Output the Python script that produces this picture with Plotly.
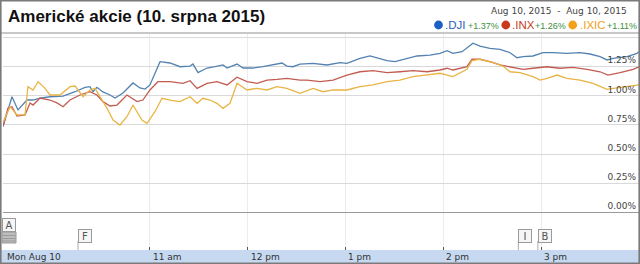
import pandas as pd
import plotly.graph_objects as go

# ---------------- data ----------------
DAY_OPEN = "2015-08-10 09:30"
DAY_CLOSE = "2015-08-10 16:00"

SERIES_NAMES = [".DJI", ".INX", ".IXIC"]
SERIES_CHANGE = ["+1.37%", "+1.26%", "+1.11%"]

# minutes after the 9:30 open, and % change vs previous close
DJI_MIN = [0, 5.5, 9.2, 14.7, 18.4, 22.7, 28.8, 36.8, 44.2, 50.3,
           53.3, 55.2, 57.6, 61.3, 65.6, 68.7, 73.6, 79.7, 84.0, 87.1,
           90.1, 93.2, 96.3, 102.4, 108.5, 114.7, 116.5, 119.6, 125.1, 130.0,
           134.9, 137.4, 143.5, 147.2, 153.3, 159.4, 165.6, 171.1, 174.1, 177.8,
           182.1, 190.1, 198.7, 206.7, 210.9, 218.9, 225.0, 231.2, 235.5, 240.4,
           247.7, 253.9, 261.8, 268.0, 272.3, 275.9, 281.5, 286.4, 288.2, 292.5,
           298.6, 304.8, 310.9, 315.2, 318.9, 325.0, 331.1, 337.3, 345.8, 353.8,
           360.0, 366.1, 370.4, 374.1, 382.7, 388.8, 390.0]
DJI_VAL = [0.735, 0.991, 0.878, 0.963, 0.963, 0.980, 0.991, 0.997, 1.034, 1.072,
           1.077, 1.034, 1.072, 1.032, 1.006, 0.980, 1.023, 1.109, 1.066, 1.057,
           1.092, 1.194, 1.291, 1.280, 1.248, 1.254, 1.271, 1.197, 1.237, 1.248,
           1.263, 1.237, 1.271, 1.237, 1.237, 1.248, 1.263, 1.280, 1.254, 1.248,
           1.271, 1.277, 1.263, 1.283, 1.277, 1.320, 1.340, 1.320, 1.300, 1.291,
           1.320, 1.340, 1.348, 1.363, 1.385, 1.363, 1.377, 1.434, 1.449, 1.425,
           1.406, 1.397, 1.368, 1.325, 1.334, 1.340, 1.368, 1.368, 1.363, 1.368,
           1.357, 1.334, 1.306, 1.320, 1.334, 1.363, 1.377]

INX_MIN = [0, 3.1, 5.5, 8.6, 13.5, 16.6, 18.4, 22.7, 28.8, 33.1,
           36.8, 41.1, 47.2, 53.3, 57.6, 61.3, 65.6, 69.9, 76.0, 82.2,
           85.8, 90.1, 95.0, 102.4, 110.4, 114.7, 119.0, 125.1, 131.2, 137.4,
           143.5, 149.6, 155.8, 161.9, 168.0, 174.1, 182.1, 186.4, 194.4, 202.4,
           210.9, 218.9, 226.9, 235.5, 243.4, 251.4, 260.0, 268.0, 272.3, 275.9,
           284.5, 287.6, 292.5, 298.6, 304.8, 312.7, 318.9, 325.0, 333.6, 341.6,
           349.5, 358.1, 366.1, 371.0, 378.4, 386.4, 390.0]
INX_VAL = [0.741, 0.895, 0.906, 0.826, 0.835, 0.938, 0.920, 0.980, 0.963, 0.938,
           0.906, 0.963, 1.006, 1.034, 1.006, 0.949, 0.912, 0.920, 1.006, 0.949,
           0.963, 1.049, 1.120, 1.120, 1.106, 1.128, 1.063, 1.106, 1.120, 1.092,
           1.158, 1.120, 1.106, 1.134, 1.140, 1.149, 1.134, 1.134, 1.120, 1.134,
           1.177, 1.205, 1.214, 1.197, 1.205, 1.214, 1.205, 1.220, 1.235, 1.220,
           1.248, 1.312, 1.312, 1.291, 1.263, 1.243, 1.226, 1.235, 1.248, 1.235,
           1.243, 1.226, 1.205, 1.177, 1.197, 1.226, 1.248]

IXIC_MIN = [0, 4.3, 8.6, 13.5, 15.3, 18.4, 21.5, 25.8, 28.8, 35.0,
            41.1, 44.2, 49.1, 53.3, 56.4, 59.5, 63.8, 67.5, 71.7, 76.0,
            79.7, 85.2, 88.3, 93.2, 97.5, 102.4, 108.5, 114.7, 119.0, 122.6,
            126.9, 131.2, 134.9, 139.2, 143.5, 149.6, 155.8, 161.9, 168.0, 174.1,
            182.1, 190.1, 196.2, 202.4, 210.9, 218.9, 226.9, 235.5, 243.4, 251.4,
            260.0, 268.0, 275.9, 284.5, 287.6, 292.5, 300.5, 306.6, 310.9, 317.0,
            325.0, 329.3, 333.6, 339.7, 345.8, 353.8, 361.8, 370.4, 378.4, 386.4,
            390.0]
IXIC_VAL = [0.771, 0.906, 0.835, 0.835, 1.077, 1.049, 1.120, 1.063, 1.006, 1.006,
            1.077, 1.083, 0.991, 1.049, 1.063, 0.991, 0.892, 0.792, 0.749, 0.820,
            0.920, 0.792, 0.764, 0.863, 0.978, 0.963, 0.949, 0.991, 0.935, 0.978,
            0.963, 0.935, 0.892, 0.935, 1.106, 1.049, 1.063, 1.049, 1.077, 1.063,
            1.021, 1.063, 1.034, 1.049, 1.049, 1.077, 1.092, 1.120, 1.134, 1.163,
            1.177, 1.192, 1.163, 1.226, 1.300, 1.312, 1.283, 1.254, 1.205, 1.197,
            1.163, 1.134, 1.149, 1.177, 1.149, 1.134, 1.106, 1.055, 1.072, 1.083,
            1.092]

Y_TICKS = [0, 0.25, 0.5, 0.75, 1.0, 1.25, 1.5]
Y_TICK_TEXT = ["0.00%", "0.25%", "0.50%", "0.75%", "1.00%", "1.25%", ""]

X_LABEL_TIMES = ["2015-08-10 09:30", "2015-08-10 11:00", "2015-08-10 12:00",
                 "2015-08-10 13:00", "2015-08-10 14:00", "2015-08-10 15:00"]
X_LABELS = ["Mon Aug 10", "11 am", "12 pm", "1 pm", "2 pm", "3 pm"]
X_GRID_TIMES = X_LABEL_TIMES[1:]

EVENT_LETTERS = ["A", "F", "I", "B"]
EVENT_TIMES = ["2015-08-10 09:30", "2015-08-10 10:16", "2015-08-10 14:46", "2015-08-10 14:58"]

TITLE = "Americké akcie (10. srpna 2015)"
DATE_RANGE = "Aug 10, 2015  -  Aug 10, 2015"

# ---------------- styling / layout ----------------
LINE_COLORS = ["#5482b0", "#c25c52", "#e9b445"]
DOT_COLORS = ["#1c5fc4", "#c9391c", "#f2a11a"]
NAME_COLORS = ["#2862b8", "#c23d22", "#f0a020"]

W, H = 640, 264
PL, PR, PT, PB = 3, 639, 34, 250  # plot area in px


def xp(px):
    return (px - PL) / (PR - PL)


def yp(py):
    return (PB - py) / (PB - PT)


PX_PER_PCT = 116.8
ZERO_PX = 212.5
y_top = (ZERO_PX - PT) / PX_PER_PCT
y_bot = (ZERO_PX - PB) / PX_PER_PCT

open_ts = pd.Timestamp(DAY_OPEN)


def to_time(mins):
    return open_ts + pd.to_timedelta(pd.Series(mins), unit="m")


fig = go.Figure()
for name, mins, vals, col in [(SERIES_NAMES[0], DJI_MIN, DJI_VAL, LINE_COLORS[0]),
                              (SERIES_NAMES[1], INX_MIN, INX_VAL, LINE_COLORS[1]),
                              (SERIES_NAMES[2], IXIC_MIN, IXIC_VAL, LINE_COLORS[2])]:
    fig.add_trace(go.Scatter(x=to_time(mins), y=vals, mode="lines", name=name,
                             line=dict(color=col, width=1.3), hoverinfo="skip",
                             showlegend=False))

shapes = []
annotations = []

# bottom blue band
shapes.append(dict(type="rect", xref="paper", yref="paper", x0=xp(0), x1=xp(W),
                   y0=yp(250), y1=yp(H), fillcolor="#c6d9f1", line=dict(width=0),
                   layer="below"))
# title separator
shapes.append(dict(type="line", xref="paper", yref="paper", x0=xp(0), x1=xp(W),
                   y0=yp(33), y1=yp(33), line=dict(color="#c8c8c8", width=2)))
# outer frame
shapes.append(dict(type="rect", xref="paper", yref="paper", x0=xp(0.8), x1=xp(639.2),
                   y0=yp(263.2), y1=yp(0.8), line=dict(color="#7a7a7a", width=1.6),
                   fillcolor="rgba(0,0,0,0)"))

# title
annotations.append(dict(text="<b>" + TITLE + "</b>", xref="paper", yref="paper",
                        x=xp(6), y=yp(17), xanchor="left", yanchor="middle",
                        showarrow=False,
                        font=dict(family="Liberation Sans, Arial", size=17, color="#111")))
# date range
annotations.append(dict(text=DATE_RANGE, xref="paper", yref="paper",
                        x=xp(629), y=yp(10.5), xanchor="right", yanchor="middle",
                        showarrow=False,
                        font=dict(family="DejaVu Sans", size=9, color="#444")))
# legend row
dot_cx = [438.5, 505.8, 572.7]
name_x = [444, 511, 579]
chg_x = [466.5, 534, 605.5]
for i in range(3):
    shapes.append(dict(type="circle", xref="paper", yref="paper",
                       x0=xp(dot_cx[i] - 4.4), x1=xp(dot_cx[i] + 4.4),
                       y0=yp(29.4), y1=yp(20.6), fillcolor=DOT_COLORS[i],
                       line=dict(width=0)))
    annotations.append(dict(text=SERIES_NAMES[i], xref="paper", yref="paper",
                            x=xp(name_x[i]), y=yp(25.3), xanchor="left", yanchor="middle",
                            showarrow=False, borderpad=0,
                            font=dict(family="Liberation Sans, Arial", size=11.5,
                                      color=NAME_COLORS[i])))
    annotations.append(dict(text=SERIES_CHANGE[i], xref="paper", yref="paper",
                            x=xp(chg_x[i]), y=yp(26.3), xanchor="left", yanchor="middle",
                            showarrow=False, borderpad=0,
                            font=dict(family="Liberation Sans, Arial", size=9,
                                      color="#3d8f3d")))

# x labels in band
for t, lab in zip(X_LABEL_TIMES, X_LABELS):
    annotations.append(dict(text=lab, xref="x", yref="paper", x=t, y=yp(256.5),
                            xanchor="left", yanchor="middle", showarrow=False,
                            xshift=2 if lab != X_LABELS[0] else 2.5, borderpad=0,
                            font=dict(family="DejaVu Sans", size=9, color="#333")))

# event flags
for k, (letter, t) in enumerate(zip(EVENT_LETTERS, EVENT_TIMES)):
    if k == 0:
        top = 217.7
        shapes.append(dict(type="rect", xref="paper", yref="paper", x0=xp(2), x1=xp(16),
                           y0=yp(243), y1=yp(232), fillcolor="#bdbdbd",
                           line=dict(color="#999", width=1)))
        for sy in (235.5, 238.5, 241):
            shapes.append(dict(type="line", xref="paper", yref="paper", x0=xp(2.5), x1=xp(15.5),
                               y0=yp(sy), y1=yp(sy), line=dict(color="#9a9a9a", width=1)))
    else:
        top = 228.5
        shapes.append(dict(type="line", xref="x", yref="paper", x0=t, x1=t,
                           y0=yp(241), y1=yp(250), line=dict(color="#aaa", width=1)))
    annotations.append(dict(text=letter, xref="x", yref="paper", x=t, y=yp(top),
                            xanchor="left", yanchor="top", showarrow=False,
                            xshift=-1 if k == 0 else 0,
                            width=10, height=10, borderpad=1, borderwidth=1,
                            bordercolor="#9a9a9a", bgcolor="#f6f6f6",
                            font=dict(family="DejaVu Sans", size=10, color="#555")))

fig.update_layout(
    width=W, height=H,
    margin=dict(l=PL, r=W - PR, t=PT, b=H - PB),
    paper_bgcolor="white", plot_bgcolor="white",
    showlegend=False, hovermode=False,
    shapes=shapes, annotations=annotations,
    xaxis=dict(type="date", range=[DAY_OPEN, DAY_CLOSE], tickmode="array",
               tickvals=X_GRID_TIMES, showticklabels=False, ticks="inside",
               ticklen=3, tickcolor="#555", tickwidth=1,
               showgrid=True, gridcolor="#ececec", gridwidth=1,
               zeroline=False, showline=False, fixedrange=True),
    yaxis=dict(range=[y_bot, y_top], tickmode="array", tickvals=Y_TICKS,
               ticktext=Y_TICK_TEXT, side="right", ticklabelposition="inside top",
               ticks="", showgrid=True, gridcolor="#d9d9d9", gridwidth=1,
               zeroline=True, zerolinecolor="#9a9a9a", zerolinewidth=1,
               showline=False, fixedrange=True,
               tickfont=dict(family="DejaVu Sans", size=9, color="#444")),
)

fig.write_html("out.html", config={"displayModeBar": False})
